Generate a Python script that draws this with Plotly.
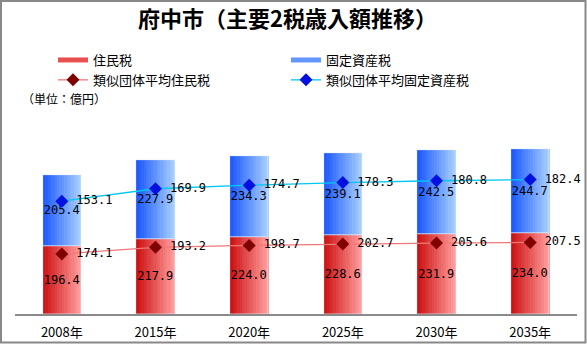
import plotly.graph_objects as go

years = ["2008年", "2015年", "2020年", "2025年", "2030年", "2035年"]
resident_tax = [196.4, 217.9, 224.0, 228.6, 231.9, 234.0]
property_tax = [205.4, 227.9, 234.3, 239.1, 242.5, 244.7]
avg_resident_tax = [174.1, 193.2, 198.7, 202.7, 205.6, 207.5]
avg_property_tax = [153.1, 169.9, 174.7, 178.3, 180.8, 182.4]

title_text = "府中市（主要2税歳入額推移）"
unit_text = "（単位：億円）"
names = ["住民税", "固定資産税", "類似団体平均住民税", "類似団体平均固定資産税"]

W, H = 587, 344
ML, MR, MT, MB = 15, 10, 95, 30
PW, PH = W - ML - MR, H - MT - MB
YMAX = 635

BAR_W = 0.406
N = 16
num_font = dict(family="DejaVu Sans Mono", size=12, color="black")


def lerp(c1, c2, t):
    return "rgb(%d,%d,%d)" % tuple(round(a + (b - a) * t) for a, b in zip(c1, c2))


red_l, red_r = (205, 20, 20), (255, 155, 155)
blue_l, blue_r = (30, 90, 255), (165, 205, 255)

fig = go.Figure()
sw = BAR_W / N
for i in range(N):
    t = i / (N - 1)
    fig.add_trace(go.Bar(x=years, y=resident_tax, width=sw * 1.15, offset=-BAR_W / 2 + i * sw,
                         marker=dict(color=lerp(red_l, red_r, t), line=dict(width=0)),
                         showlegend=False, hoverinfo="skip"))
    fig.add_trace(go.Bar(x=years, y=property_tax, base=resident_tax, width=sw * 1.15,
                         offset=-BAR_W / 2 + i * sw,
                         marker=dict(color=lerp(blue_l, blue_r, t), line=dict(width=0)),
                         showlegend=False, hoverinfo="skip"))

# labels inside bars
for vals, base in ((resident_tax, None), (property_tax, resident_tax)):
    fig.add_trace(go.Bar(x=years, y=vals, base=base, width=BAR_W,
                         marker=dict(color="rgba(0,0,0,0)"),
                         text=[f"{v:.1f}" for v in vals], textposition="inside", textangle=0,
                         insidetextanchor="middle", constraintext="none", textfont=num_font,
                         cliponaxis=False, showlegend=False, hoverinfo="skip"))

# legend proxies for bars
fig.add_trace(go.Scatter(x=[None], y=[None], mode="lines", name=names[0],
                         line=dict(color="rgb(232,80,80)", width=5), legend="legend"))
fig.add_trace(go.Scatter(x=[None], y=[None], mode="lines", name=names[1],
                         line=dict(color="rgb(100,150,255)", width=5), legend="legend2"))

stack_avg = [a + b for a, b in zip(avg_resident_tax, avg_property_tax)]
fig.add_trace(go.Scatter(x=years, y=avg_resident_tax, mode="lines+markers+text", name=names[2],
                         line=dict(color="#f07878", width=1.3),
                         marker=dict(symbol="diamond", size=10, color="#800000"),
                         text=[f" {v:.1f}" for v in avg_resident_tax], textposition="middle right",
                         textfont=num_font, cliponaxis=False, legend="legend"))
fig.add_trace(go.Scatter(x=years, y=stack_avg, mode="lines+markers+text", name=names[3],
                         line=dict(color="#00c8f0", width=1.3),
                         marker=dict(symbol="diamond", size=10, color="#0010e0"),
                         text=[f" {v:.1f}" for v in avg_property_tax], textposition="middle right",
                         textfont=num_font, cliponaxis=False, legend="legend2"))

leg_font = dict(family="Noto Sans CJK JP", size=13, color="black")
ly = 1 + (MT - 45) / PH
fig.update_layout(
    width=W, height=H, margin=dict(l=ML, r=MR, t=MT, b=MB, autoexpand=False),
    paper_bgcolor="white", plot_bgcolor="white",
    barmode="overlay", bargap=0,
    font=dict(family="Noto Sans CJK JP", color="black"),
    title=dict(text=title_text, x=287.5 / W, xanchor="center", y=1 - 19 / H, yanchor="middle",
               font=dict(family="Noto Sans CJK JP", size=22, color="black", weight="bold")),
    legend=dict(x=(53 - ML) / PW, y=ly, xanchor="left", yanchor="top", font=leg_font,
                bgcolor="rgba(0,0,0,0)", tracegroupgap=0, itemwidth=30),
    legend2=dict(x=(286 - ML) / PW, y=ly, xanchor="left", yanchor="top", font=leg_font,
                 bgcolor="rgba(0,0,0,0)", tracegroupgap=0, itemwidth=30),
    xaxis=dict(type="category", showline=True, linecolor="#8a8a8a", linewidth=1.5,
               ticks="", showgrid=False, ticklabelstandoff=6, automargin=False,
               tickfont=dict(family="Noto Sans CJK JP", size=13, color="black"),
               range=[-0.5, len(years) - 0.5]),
    yaxis=dict(range=[0, YMAX], visible=False, showgrid=False, automargin=False),
    annotations=[dict(text=unit_text, xref="paper", yref="paper", x=(20 - ML) / PW,
                      y=1 + (MT - 98) / PH, xanchor="left", yanchor="middle", showarrow=False,
                      font=dict(family="Noto Sans CJK JP", size=12, color="black"))],
    shapes=[dict(type="rect", xref="paper", yref="paper",
                 x0=(1 - ML) / PW, x1=(585.5 - ML) / PW,
                 y0=(MT + PH - 342.5) / PH, y1=(MT + PH - 1) / PH,
                 line=dict(color="#888888", width=2), fillcolor="rgba(0,0,0,0)", layer="below")],
)

fig.write_html("out.html")
